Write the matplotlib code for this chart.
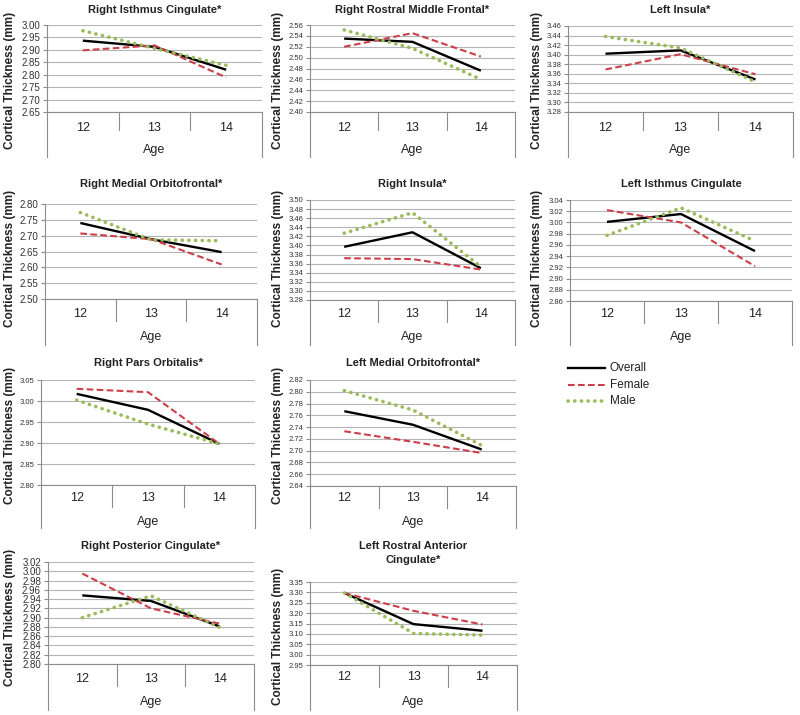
import matplotlib
matplotlib.use('Agg')
import matplotlib.pyplot as plt
from matplotlib.lines import Line2D
import numpy as np

plt.rcParams['font.family'] = ['Liberation Sans', 'DejaVu Sans']

ages = ['12', '13', '14']
series_names = ['Overall', 'Female', 'Male']

# Right Isthmus Cingulate*
ric_overall = [2.937, 2.912, 2.820]
ric_female = [2.898, 2.918, 2.789]
ric_male = [2.977, 2.906, 2.838]
# Right Rostral Middle Frontal*
rrmf_overall = [2.535, 2.529, 2.476]
rrmf_female = [2.520, 2.545, 2.502]
rrmf_male = [2.551, 2.517, 2.460]
# Left Insula*
li_overall = [3.402, 3.409, 3.348]
li_female = [3.369, 3.401, 3.359]
li_male = [3.438, 3.414, 3.343]
# Right Medial Orbitofrontal*
rmo_overall = [2.740, 2.689, 2.648]
rmo_female = [2.707, 2.689, 2.609]
rmo_male = [2.773, 2.687, 2.684]
# Right Insula*
ri_overall = [3.397, 3.429, 3.350]
ri_female = [3.372, 3.370, 3.347]
ri_male = [3.427, 3.472, 3.353]
# Left Isthmus Cingulate
lic_overall = [3.001, 3.015, 2.949]
lic_female = [3.022, 3.000, 2.922]
lic_male = [2.977, 3.026, 2.967]
# Right Pars Orbitalis*
rpo_overall = [3.017, 2.979, 2.898]
rpo_female = [3.029, 3.021, 2.898]
rpo_male = [3.002, 2.945, 2.898]
# Left Medial Orbitofrontal*
lmo_overall = [2.767, 2.744, 2.702]
lmo_female = [2.733, 2.715, 2.696]
lmo_male = [2.802, 2.769, 2.709]
# Right Posterior Cingulate*
rpc_overall = [2.948, 2.936, 2.881]
rpc_female = [2.995, 2.920, 2.887]
rpc_male = [2.900, 2.947, 2.879]
# Left Rostral Anterior Cingulate*
lrac_overall = [3.297, 3.147, 3.115]
lrac_female = [3.297, 3.211, 3.145]
lrac_male = [3.297, 3.102, 3.094]

W, H = 800, 715
fig = plt.figure(figsize=(8, 7.15), dpi=100)

GRID = '#b5b5b5'
AXC = '#8c8c8c'
RED = '#cc3f4a'
GREEN = '#9bbb59'


def fx(x):
    return x / W


def fy(y):
    return 1 - y / H


def vline(x, y0, y1):
    fig.add_artist(Line2D([fx(x), fx(x)], [fy(y0), fy(y1)],
                          transform=fig.transFigure, color=AXC, lw=0.8))


def style_kwargs():
    return [
        dict(color='black', lw=1.7, ls='-'),
        dict(color=RED, lw=1.5, ls=(0, (3.2, 1.6))),
        dict(color=GREEN, lw=2.6, ls=(0, (0.05, 1.8)), dash_capstyle='round'),
    ]


def panel(l, r, t, b, title, title_y, lo, hi, step, data, tick_fs,
          ylab_x, ylab_y, cat_y, age_y, outer_bottom, div_len):
    ax = fig.add_axes([fx(l), fy(b), (r - l) / W, (b - t) / H])
    xs = np.arange(len(ages)) + 0.5
    for vals, kw in zip(data, style_kwargs()):
        ax.plot(xs, vals, solid_capstyle='butt', **kw)
    ax.set_xlim(0, len(ages))
    ax.set_ylim(lo, hi)
    ticks = np.arange(lo, hi + step / 2, step)
    ax.set_yticks(ticks)
    ax.set_yticklabels(['%.2f' % v for v in ticks])
    ax.set_xticks([])
    ax.yaxis.grid(True, color=GRID, lw=0.8)
    ax.set_axisbelow(True)
    for s in ['top', 'right']:
        ax.spines[s].set_visible(False)
    ax.spines['left'].set_color(AXC)
    ax.spines['bottom'].set_color(AXC)
    ax.spines['left'].set_linewidth(0.8)
    ax.spines['bottom'].set_linewidth(0.8)
    ax.tick_params(axis='y', length=3, width=0.8, color=AXC,
                   labelsize=tick_fs, labelcolor='#333333', pad=2)
    cx = (l + r) / 2
    if isinstance(title, list):
        for tl, ty in zip(title, title_y):
            fig.text(fx(cx), fy(ty), tl, ha='center', va='center',
                     fontsize=8, fontweight='bold', color='#222222')
    else:
        fig.text(fx(cx), fy(title_y), title, ha='center', va='center',
                 fontsize=8, fontweight='bold', color='#222222')
    fig.text(fx(ylab_x), fy(ylab_y), 'Cortical Thickness (mm)', rotation=90,
             ha='center', va='center', fontsize=8.5, fontweight='bold',
             color='#222222')
    n = len(ages)
    for i, a in enumerate(ages):
        fig.text(fx(l + (i + 0.5) / n * (r - l)), fy(cat_y), a, ha='center',
                 va='center', fontsize=9, color='#222222')
    fig.text(fx(cx), fy(age_y), 'Age', ha='center', va='center',
             fontsize=9, color='#222222')
    for i in range(n + 1):
        x = l + i / n * (r - l)
        if i in (0, n):
            vline(x, b, outer_bottom)
        else:
            vline(x, b, b + div_len)
    return ax


# Row 1
panel(47, 262, 25, 112, 'Right Isthmus Cingulate*', 10, 2.65, 3.00, 0.05,
      [ric_overall, ric_female, ric_male], 7, 10, 80, 128, 150, 157, 18)
panel(310, 515, 25, 112, 'Right Rostral Middle Frontal*', 10, 2.40, 2.56, 0.02,
      [rrmf_overall, rrmf_female, rrmf_male], 5.5, 278, 80, 128, 150, 157, 18)
panel(568, 793, 26, 112, 'Left Insula*', 10, 3.28, 3.46, 0.02,
      [li_overall, li_female, li_male], 5.5, 537, 80, 128, 150, 157, 18)
# Row 2
panel(45, 257, 204, 299, 'Right Medial Orbitofrontal*', 184, 2.50, 2.80, 0.05,
      [rmo_overall, rmo_female, rmo_male], 7, 10, 258, 314, 337, 345, 22)
panel(310, 515, 200, 300, 'Right Insula*', 184, 3.28, 3.50, 0.02,
      [ri_overall, ri_female, ri_male], 5.5, 278, 258, 314, 337, 345, 22)
panel(570, 792, 200, 301, 'Left Isthmus Cingulate', 184, 2.86, 3.04, 0.02,
      [lic_overall, lic_female, lic_male], 5.5, 537, 258, 314, 337, 345, 22)
# Row 3
panel(41, 255, 380, 485, 'Right Pars Orbitalis*', 363, 2.80, 3.05, 0.05,
      [rpo_overall, rpo_female, rpo_male], 5.5, 10, 435, 498, 522, 528, 22)
panel(310, 516, 380, 486, 'Left Medial Orbitofrontal*', 363, 2.64, 2.82, 0.02,
      [lmo_overall, lmo_female, lmo_male], 5.5, 278, 435, 498, 522, 528, 22)
# Row 4
panel(48, 254, 562, 664, 'Right Posterior Cingulate*', 546, 2.80, 3.02, 0.02,
      [rpc_overall, rpc_female, rpc_male], 7, 10, 617, 679, 702, 710, 22)
panel(310, 517, 582, 665, ['Left Rostral Anterior', 'Cingulate*'], [546, 560],
      2.95, 3.35, 0.05,
      [lrac_overall, lrac_female, lrac_male], 5.5, 278, 636, 677, 702, 710, 22)

# Legend
leg_y = [368, 385, 401]
for name, kw, y in zip(series_names, style_kwargs(), leg_y):
    fig.add_artist(Line2D([fx(568), fx(605)], [fy(y), fy(y)],
                          transform=fig.transFigure, **kw))
    fig.text(fx(610), fy(y), name, ha='left', va='center', fontsize=8.5,
             color='#222222')

fig.savefig('out.png', dpi=100)
